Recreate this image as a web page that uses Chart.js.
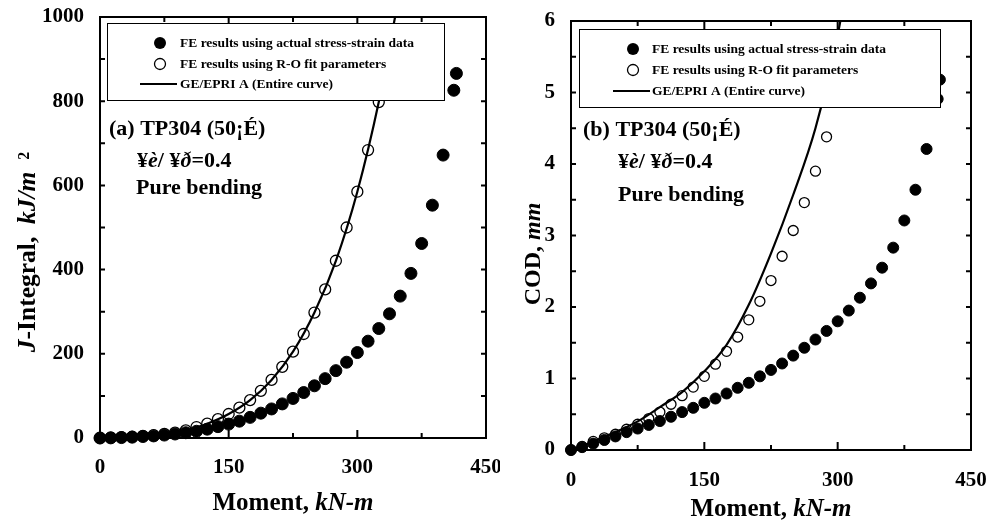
<!DOCTYPE html>
<html>
<head>
<meta charset="utf-8">
<script src="https://cdn.jsdelivr.net/npm/chart.js@4"></script>
<style>
  html, body { margin: 0; padding: 0; background: #fff; }
  #wrap { position: relative; width: 989px; height: 523px; overflow: hidden; }
  canvas { position: absolute; top: 0; }
  #j-chart { left: 0; }
  #cod-chart { left: 489px; }
</style>
</head>
<body>
<div id="wrap">
  <canvas id="j-chart" width="500" height="523"></canvas>
  <canvas id="cod-chart" width="500" height="523"></canvas>
</div>
<script>
// ================================================
// TP304 (50°C) pure bending: J-integral and COD vs moment
// ================================================

// ── DATA: (a) J-integral, kJ/m2 ───────────────────────────────────────────
const jMomentActual = [0, 12.5, 25, 37.5, 50, 62.5, 75, 87.5, 100, 112.5, 125, 137.5, 150, 162.5, 175,
  187.5, 200, 212.5, 225, 237.5, 250, 262.5, 275, 287.5, 300, 312.5, 325, 337.5, 350, 362.5, 375,
  387.5, 400, 412.5, 415.5];
const jActual = [0, 0.3, 1, 2, 3.5, 5, 7, 9.5, 12.5, 16, 21, 27, 33, 40, 49,
  59, 69, 81, 94, 108, 124, 141, 160, 180, 203, 230, 260, 295, 337, 391, 462,
  553, 672, 826, 866];
const jMomentRO = [0, 12.5, 25, 37.5, 50, 62.5, 75, 87.5, 100, 112.5, 125, 137.5, 150, 162.5, 175,
  187.5, 200, 212.5, 225, 237.5, 250, 262.5, 275, 287.5, 300, 312.5, 325];
const jRO = [0, 1, 2, 3, 5, 7, 10, 13, 18, 26, 34, 45, 57, 72, 90,
  112, 138, 169, 205, 247, 298, 353, 421, 500, 585, 684, 798];
const jMomentGE = [0, 25, 50, 75, 100, 125, 150, 175, 200, 225, 250, 275, 300, 325, 344];
const jGE = [0, 2, 5, 10, 18, 34, 57, 90, 138, 205, 298, 421, 585, 798, 1000];

// ── DATA: (b) COD, mm ─────────────────────────────────────────────────────
const codMomentActual = [0, 12.5, 25, 37.5, 50, 62.5, 75, 87.5, 100, 112.5, 125, 137.5, 150, 162.5, 175,
  187.5, 200, 212.5, 225, 237.5, 250, 262.5, 275, 287.5, 300, 312.5, 325, 337.5, 350, 362.5, 375,
  387.5, 400, 412.5, 415];
const codActual = [0, 0.04, 0.09, 0.14, 0.19, 0.25, 0.30, 0.35, 0.405, 0.465, 0.53, 0.59, 0.66, 0.72, 0.79,
  0.87, 0.94, 1.03, 1.12, 1.21, 1.32, 1.43, 1.545, 1.665, 1.80, 1.95, 2.13, 2.33, 2.55, 2.83, 3.21,
  3.64, 4.21, 4.91, 5.18];
const codMomentRO = [0, 12.5, 25, 37.5, 50, 62.5, 75, 87.5, 100, 112.5, 125, 137.5, 150, 162.5, 175,
  187.5, 200, 212.5, 225, 237.5, 250, 262.5, 275, 287.5];
const codRO = [0, 0.05, 0.12, 0.17, 0.22, 0.29, 0.36, 0.44, 0.53, 0.64, 0.76, 0.88, 1.03, 1.20, 1.38,
  1.58, 1.82, 2.08, 2.37, 2.71, 3.07, 3.46, 3.90, 4.38];
const codMomentGE = [0, 25, 50, 75, 100, 125, 150, 175, 200, 225, 250, 275, 300, 303];
const codGE = [0, 0.12, 0.25, 0.40, 0.60, 0.81, 1.10, 1.47, 2.03, 2.75, 3.57, 4.5, 5.8, 6.0];

// ── TICKS / LABELS ────────────────────────────────────────────────────────
const momentTicks = [0, 150, 300, 450];
const jTicks = [0, 200, 400, 600, 800, 1000];
const codTicks = [0, 1, 2, 3, 4, 5, 6];
const legendLabels = [
  'FE results using actual stress-strain data',
  'FE results using R-O fit parameters',
  'GE/EPRI A (Entire curve)',
];

// ── HELPERS ───────────────────────────────────────────────────────────────
const SERIF = '"Liberation Serif", "Times New Roman", serif';

function fontStr(size, italic) {
  return `${italic ? 'italic ' : ''}bold ${size}px ${SERIF}`;
}

function toPoints(xs, ys) {
  return xs.map((x, i) => ({ x, y: ys[i] }));
}

/** Draws a run of text pieces (some italic / superscript) on one baseline. */
function drawRich(ctx, x, y, parts, size, align) {
  const widths = parts.map(p => {
    ctx.font = fontStr(p.sup ? size * 0.62 : size, p.i);
    return ctx.measureText(p.t).width;
  });
  let cx = align === 'center' ? x - widths.reduce((a, b) => a + b, 0) / 2 : x;
  ctx.textBaseline = 'alphabetic';
  ctx.textAlign = 'left';
  parts.forEach((p, k) => {
    ctx.font = fontStr(p.sup ? size * 0.62 : size, p.i);
    ctx.fillText(p.t, cx, p.sup ? y - size * 0.22 : y);
    cx += widths[k];
  });
}

function buildDatasets(mA, vA, mR, vR, mG, vG, sz) {
  return [
    {
      label: legendLabels[1],
      data: toPoints(mR, vR),
      pointRadius: sz.open,
      pointBackgroundColor: 'rgba(0,0,0,0)',
      pointBorderColor: '#000',
      pointBorderWidth: 1.3,
      clip: false,
    },
    {
      label: legendLabels[0],
      data: toPoints(mA, vA),
      pointRadius: sz.filled,
      pointBackgroundColor: '#000',
      pointBorderColor: '#000',
      pointBorderWidth: 1,
      clip: false,
    },
    {
      label: legendLabels[2],
      data: toPoints(mG, vG),
      showLine: true,
      pointRadius: 0,
      borderColor: '#000',
      borderWidth: 2.2,
      cubicInterpolationMode: 'monotone',
      fill: false,
    },
  ];
}

function axisOpts(min, max, ticksArr, axis, fitSize, pad) {
  return {
    type: 'linear',
    min, max,
    grid: { display: false },
    border: { display: false },
    afterBuildTicks: s => { s.ticks = ticksArr.map(v => ({ value: v })); },
    afterFit: s => {
      if (axis === 'x') s.height = fitSize; else s.width = fitSize;
      s.paddingLeft = s.paddingRight = s.paddingTop = s.paddingBottom = 0;
    },
    ticks: {
      font: { family: SERIF, size: 21, weight: 'bold' },
      color: '#000',
      padding: pad,
      autoSkip: false,
      maxRotation: 0,
      callback: v => String(v),
    },
  };
}

// frame, inward ticks, legend box, titles and notes
function makeDecor(cfg) {
  return {
    id: 'decor',
    beforeDatasetsDraw(chart) {
      const { ctx, chartArea: a, scales: { x, y } } = chart;
      ctx.save();
      ctx.strokeStyle = '#000';
      ctx.lineWidth = 2;
      ctx.strokeRect(a.left, a.top, a.right - a.left, a.bottom - a.top);
      ctx.beginPath();
      for (let v = x.min; v <= x.max + 1e-9; v += cfg.xMinor) {
        const px = x.getPixelForValue(v);
        const len = momentTicks.includes(v) ? 8 : 5;
        ctx.moveTo(px, a.bottom); ctx.lineTo(px, a.bottom - len);
        ctx.moveTo(px, a.top); ctx.lineTo(px, a.top + len);
      }
      for (let v = y.min; v <= y.max + 1e-9; v += cfg.yMinor) {
        const py = y.getPixelForValue(v);
        ctx.moveTo(a.left, py); ctx.lineTo(a.left + 5, py);
        ctx.moveTo(a.right, py); ctx.lineTo(a.right - 5, py);
      }
      ctx.stroke();
      ctx.restore();
    },
    afterDatasetsDraw(chart) {
      const { ctx } = chart;
      const L = cfg.legend;
      const ds = chart.data.datasets;
      ctx.save();
      ctx.fillStyle = '#fff';
      ctx.fillRect(L.x, L.y, L.w, L.h);
      ctx.strokeStyle = '#000';
      ctx.lineWidth = 1;
      ctx.strokeRect(L.x + 0.5, L.y + 0.5, L.w, L.h);
      // filled marker
      ctx.fillStyle = '#000';
      ctx.beginPath(); ctx.arc(L.mx, L.rows[0], 6, 0, Math.PI * 2); ctx.fill();
      // open marker
      ctx.lineWidth = 1.3;
      ctx.beginPath(); ctx.arc(L.mx, L.rows[1], 5.5, 0, Math.PI * 2); ctx.stroke();
      // line sample
      ctx.lineWidth = 2.2;
      ctx.beginPath(); ctx.moveTo(L.lx1, L.rows[2]); ctx.lineTo(L.lx2, L.rows[2]); ctx.stroke();
      ctx.font = fontStr(13.5, false);
      ctx.textBaseline = 'middle';
      ctx.textAlign = 'left';
      [ds[1].label, ds[0].label, ds[2].label].forEach((t, k) => ctx.fillText(t, L.tx, L.rows[k] + 1));
      ctx.restore();
    },
    afterDraw(chart) {
      const { ctx } = chart;
      ctx.save();
      ctx.fillStyle = '#000';
      cfg.notes.forEach(n => drawRich(ctx, n.x, n.y, n.parts, 22, 'left'));
      drawRich(ctx, cfg.xTitle.x, cfg.xTitle.y,
        [{ t: 'Moment, ' }, { t: 'kN-m', i: true }], 25, 'center');
      ctx.translate(cfg.yTitle.x, cfg.yTitle.y);
      ctx.rotate(-Math.PI / 2);
      drawRich(ctx, 0, 0, cfg.yTitle.parts, cfg.yTitle.size, 'center');
      ctx.restore();
    },
  };
}

function noteParts(tag) {
  return [
    [{ t: `(${tag}) TP304 (50¡É)` }],
    [{ t: '¥' }, { t: 'è', i: true }, { t: '/ ¥' }, { t: 'ð', i: true }, { t: '=0.4' }],
    [{ t: 'Pure bending' }],
  ];
}

function makeChart(canvasId, datasets, xAxis, yAxis, padding, decor) {
  return new Chart(document.getElementById(canvasId), {
    type: 'scatter',
    data: { datasets },
    options: {
      responsive: false,
      animation: false,
      events: [],
      layout: { padding },
      scales: { x: xAxis, y: yAxis },
      plugins: { legend: { display: false }, tooltip: { enabled: false } },
    },
    plugins: [makeDecor(decor)],
  });
}

// ── (a) J-integral ────────────────────────────────────────────────────────
const jNotes = noteParts('a');
makeChart('j-chart',
  buildDatasets(jMomentActual, jActual, jMomentRO, jRO, jMomentGE, jGE, { filled: 6, open: 5.5 }),
  axisOpts(0, 450, momentTicks, 'x', 85, 9),
  axisOpts(0, 1000, jTicks, 'y', 100, 8),
  { top: 17, right: 14, left: 0, bottom: 0 },
  {
    xMinor: 75, yMinor: 100,
    legend: { x: 107, y: 23, w: 337, h: 77, mx: 160, lx1: 140, lx2: 177, tx: 180, rows: [43, 64, 84] },
    notes: [
      { x: 109, y: 135, parts: jNotes[0] },
      { x: 137, y: 167, parts: jNotes[1] },
      { x: 136, y: 194, parts: jNotes[2] },
    ],
    xTitle: { x: 293, y: 510 },
    yTitle: {
      x: 35, y: 252, size: 25.5,
      parts: [{ t: 'J', i: true }, { t: '-Integral,  ' }, { t: 'kJ/m', i: true }, { t: '   2', sup: true }],
    },
  });

// ── (b) COD ───────────────────────────────────────────────────────────────
const codNotes = noteParts('b');
makeChart('cod-chart',
  buildDatasets(codMomentActual, codActual, codMomentRO, codRO, codMomentGE, codGE, { filled: 5.5, open: 5 }),
  axisOpts(0, 450, momentTicks, 'x', 73, 10),
  axisOpts(0, 6, codTicks, 'y', 82, 8),
  { top: 21, right: 18, left: 0, bottom: 0 },
  {
    xMinor: 75, yMinor: 0.5,
    legend: { x: 90, y: 29, w: 361, h: 78, mx: 144, lx1: 124, lx2: 161, tx: 163, rows: [49, 70, 91] },
    notes: [
      { x: 94, y: 136, parts: codNotes[0] },
      { x: 129, y: 168, parts: codNotes[1] },
      { x: 129, y: 201, parts: codNotes[2] },
    ],
    xTitle: { x: 282, y: 516 },
    yTitle: {
      x: 51, y: 254, size: 24,
      parts: [{ t: 'COD, ' }, { t: 'mm', i: true }],
    },
  });
</script>
</body>
</html>
